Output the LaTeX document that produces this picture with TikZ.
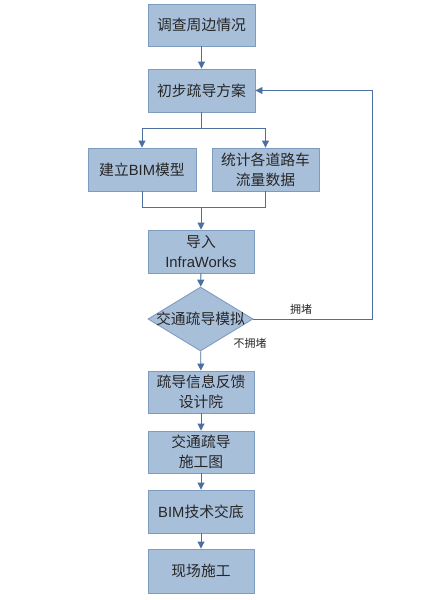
\documentclass[tikz,border=0pt]{standalone}
\usepackage{fontspec}
\setmainfont{Noto Sans CJK SC}
\newfontfamily\lat{Liberation Sans}
\usetikzlibrary{shapes.geometric,arrows.meta}
\definecolor{boxfill}{HTML}{A8BFDA}
\definecolor{boxline}{HTML}{7E9BC0}
\definecolor{conn}{HTML}{4A6FA0}
\tikzset{
  stepbox/.style={draw=boxline, fill=boxfill, line width=0.9pt, minimum width=107pt, minimum height=43pt, inner sep=0pt, align=center, font=\fontsize{14.8}{20}\selectfont, text=black!85},
  decbox/.style={diamond, aspect=1.64, draw=boxline, fill=boxfill, line width=0.9pt, minimum width=105pt, minimum height=64pt, inner sep=0pt},
  dectext/.style={font=\fontsize{14.8}{20}\selectfont, text=black!85, inner sep=0pt},
  conn/.style={draw=conn, line width=0.9pt},
  arr/.style={conn, -{Triangle[width=7pt,length=7pt]}},
  lab/.style={font=\fontsize{11}{12}\selectfont, text=black!85, inner sep=0pt}
}
\begin{document}
\begin{tikzpicture}[x=1pt,y=-1pt]
\useasboundingbox (0,0) rectangle (436,600);
\node[stepbox, minimum height=42pt] (b1) at (201.5,25) {调查周边情况};
\node[stepbox] (b2) at (201.5,90.5) {初步疏导方案};
\node[stepbox, minimum width=108pt] (b3) at (142,169.5) {建立{\lat BIM}模型};
\node[stepbox] (b4) at (265.5,169.5) {统计各道路车\\流量数据};
\node[stepbox, minimum width=106pt] (b5) at (201,251.5) {导入\\{\lat InfraWorks}};
\node[decbox, label={[dectext]center:交通疏导模拟}] (d) at (200.5,319) {};
\node[stepbox, minimum width=106pt, minimum height=42pt] (b6) at (201,392) {疏导信息反馈\\设计院};
\node[stepbox, minimum width=106pt, minimum height=42pt] (b7) at (201,452) {交通疏导\\施工图};
\node[stepbox, minimum width=106pt] (b8) at (201,511.5) {{\lat BIM}技术交底};
\node[stepbox, minimum width=106pt, minimum height=44pt] (b9) at (201,571) {现场施工};

\coordinate (split) at (201.5,128);
\coordinate (sl) at (142,128);
\coordinate (sr) at (265.5,128);
\coordinate (ml) at (142,207);
\coordinate (mr) at (265.5,207);
\coordinate (mm) at (201,207);
\coordinate (fb1) at (372,319);
\coordinate (fb2) at (372,90.5);

\draw[arr] (b1) -- (b2);
\draw[conn] (b2.south) -- (split);
\draw[arr] (split) -- (sl) -- (b3.north);
\draw[arr] (split) -- (sr) -- (b4.north);
\draw[conn] (b3.south) -- (ml) -- (mr) -- (b4.south);
\draw[arr] (mm) -- (b5.north);
\draw[arr] (b5) -- (d);
\draw[arr] (d.east) -- (fb1) -- (fb2) -- (b2.east);
\draw[arr] (d) -- (b6);
\draw[arr] (b6) -- (b7);
\draw[arr] (b7) -- (b8);
\draw[arr] (b8) -- (b9);

\node[lab] (l1) at (301,309) {拥堵};
\node[lab] (l2) at (250,343) {不拥堵};
\end{tikzpicture}
\end{document}
